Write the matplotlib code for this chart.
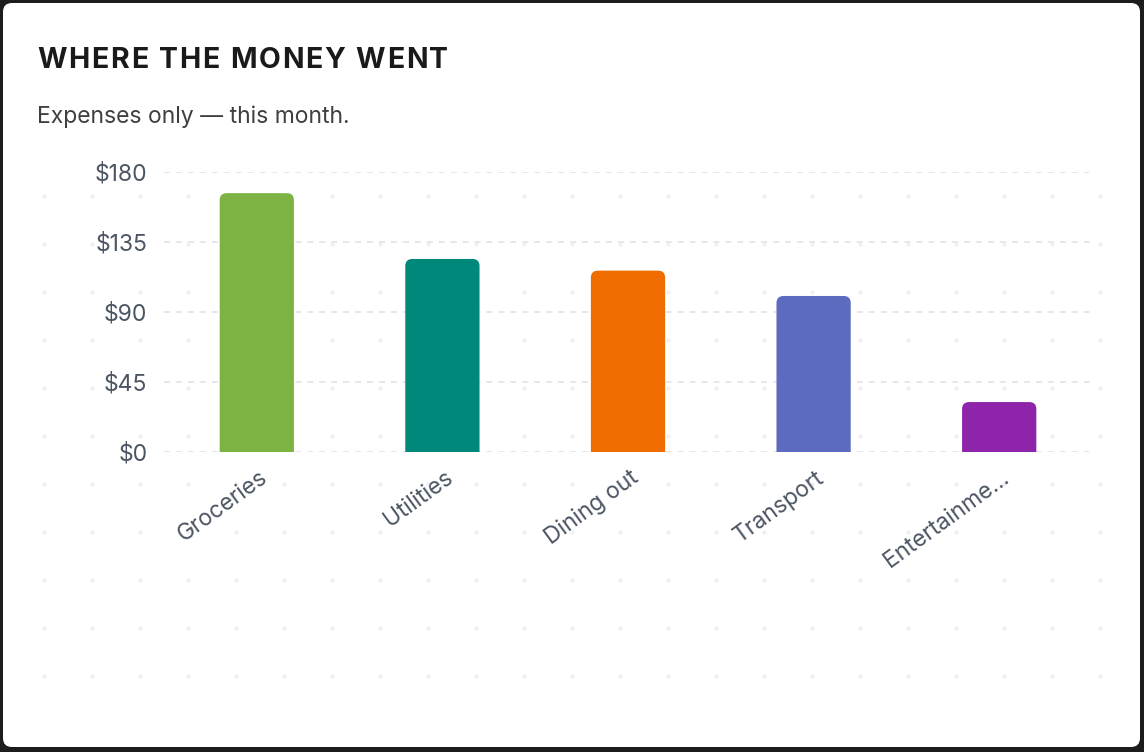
import numpy as np
import matplotlib
matplotlib.use('Agg')
from matplotlib import pyplot as plt
from matplotlib.patches import Rectangle, FancyBboxPatch
from matplotlib.font_manager import FontProperties
from matplotlib.transforms import ScaledTranslation

categories = ['Groceries', 'Utilities', 'Dining out', 'Transport', 'Entertainme...']
amounts = [166.4, 124.1, 116.6, 100.3, 32.1]
bar_colors = ['#7cb342', '#00897b', '#ef6c00', '#5c6bc0', '#8e24aa']
y_ticks = [0, 45, 90, 135, 180]
y_labels = ['$0', '$45', '$90', '$135', '$180']

title = 'WHERE THE MONEY WENT'
subtitle = 'Expenses only \u2014 this month.'

W, H = 1144, 752
plt.rcParams['font.family'] = ['Inter', 'DejaVu Sans']
plt.rcParams['lines.scale_dashes'] = False

fig = plt.figure(figsize=(W / 100, H / 100), dpi=100)

# 背景（枠線とドット）
bg = fig.add_axes([0, 0, 1, 1], zorder=0)
bg.set_xlim(0, W)
bg.set_ylim(H, 0)
bg.axis('off')
bg.add_patch(Rectangle((0, 0), W, H, fc='#1c1c1c', ec='none'))
bg.add_patch(FancyBboxPatch((3, 3), W - 7, H - 8,
                            boxstyle='round,pad=0,rounding_size=9',
                            fc='white', ec='none'))
gx, gy = np.meshgrid(np.arange(44, 1101, 48), np.arange(196, 677, 48))
bg.scatter(gx.ravel(), gy.ravel(), s=9, c='#f0f0f2', linewidths=0)

# タイトル（文字間隔あり）
renderer = fig.canvas.get_renderer()
fp = FontProperties(family='Inter', weight='bold', size=20.5)
spacing = 1.8
x0, base = 37, 68
for i, ch in enumerate(title):
    if ch == ' ':
        continue
    w_full = renderer.get_text_width_height_descent(title[:i + 1], fp, ismath=False)[0]
    w_ch = renderer.get_text_width_height_descent(ch, fp, ismath=False)[0]
    xp = x0 + (w_full - w_ch) + i * spacing
    fig.text(xp / W, 1 - base / H, ch, fontproperties=fp, color='#1a1a1a',
             va='baseline', ha='left')

fig.text(37 / W, 1 - 123 / H, subtitle, fontsize=16.5, color='#3f3f3f',
         va='baseline', ha='left')

# 棒グラフ
ax = fig.add_axes([164 / W, 1 - 452 / H, (1092 - 164) / W, (452 - 172) / H], zorder=1)
ax.patch.set_alpha(0)
x = np.arange(len(categories))
bars = ax.bar(x, amounts, width=0.4, color=bar_colors, zorder=2)
ax.set_xlim(-0.5, len(categories) - 0.5)
ax.set_ylim(0, 180)

# 上の角を丸める
px_x = 1 / 185.6
px_y = 180 / 280
for b in bars:
    b.set_visible(False)
    rb = FancyBboxPatch((b.get_x(), -20), b.get_width(), b.get_height() + 20,
                        boxstyle='round,pad=0,rounding_size=%f' % (7 * px_x),
                        mutation_aspect=px_y / px_x,
                        fc=b.get_facecolor(), ec='none', zorder=2)
    ax.add_patch(rb)

ax.set_yticks(y_ticks, y_labels)
ax.set_xticks(x, categories, rotation=36, ha='right', va='center',
              rotation_mode='anchor')
for s in ax.spines.values():
    s.set_visible(False)
ax.tick_params(length=0, labelsize=16.5, labelcolor='#4b5563')
ax.tick_params(axis='y', pad=12)
ax.tick_params(axis='x', pad=17)
for lab in ax.get_xticklabels():
    lab.set_transform(lab.get_transform() + ScaledTranslation(0.08, 0, fig.dpi_scale_trans))
ax.yaxis.grid(True, color='#e6e6ec', linewidth=1.4, linestyle=(0, (4.3, 4.3)), zorder=1)
ax.set_axisbelow(True)

fig.savefig('out.png', dpi=100)
